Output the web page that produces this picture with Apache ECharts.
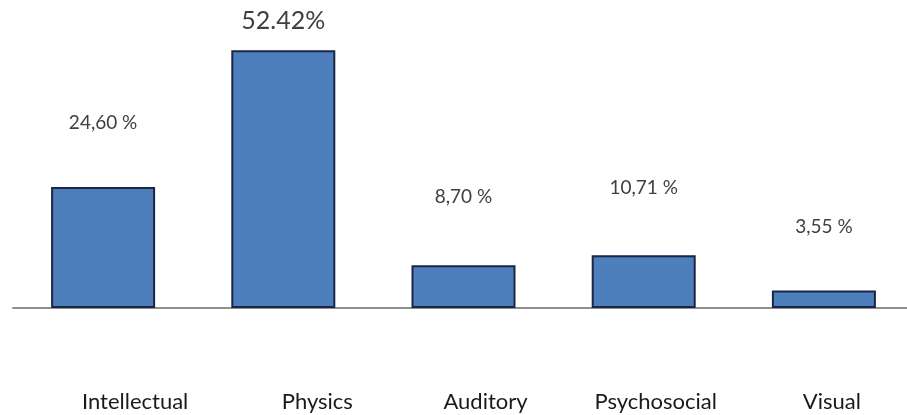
<!DOCTYPE html>
<html>
<head>
<meta charset="utf-8">
<script src="https://cdn.jsdelivr.net/npm/echarts@6/dist/echarts.min.js"></script>
<style>
  html, body { margin: 0; padding: 0; background: #ffffff; }
  #chart { width: 907px; height: 415px; }
</style>
</head>
<body>
<div id="chart"></div>
<script>
// Disability types and their share (%)
const categories = ['Intellectual', 'Physics', 'Auditory', 'Psychosocial', 'Visual'];
const shares = [24.60, 52.42, 8.70, 10.71, 3.55];
// How each share is written above its bar
const decimalMarks = [',', '.', ',', ',', ','];
const percentGaps = [' ', '', ' ', ' ', ' '];

// Styling: label gap above each bar, label font size, category label nudge to the right
const labelDistance = [55, 17, 59, 58, 54];
const labelFontSize = [19, 25, 19, 19, 19];
const categoryNudge = [32, 34, 22, 12, 8];

function shareText(i) {
  return shares[i].toFixed(2).replace('.', decimalMarks[i]) + percentGaps[i] + '%';
}

const rich = {};
categoryNudge.forEach((d, i) => {
  rich['c' + i] = {
    fontFamily: 'Lato',
    fontSize: 22,
    color: '#1a1a1a',
    padding: [0, 0, 0, 2 * d]
  };
});

const chart = echarts.init(document.getElementById('chart'), null, { renderer: 'canvas' });
chart.setOption({
  animation: false,
  backgroundColor: '#ffffff',
  grid: {
    left: 13, width: 901, top: 13, bottom: 107,
    containLabel: false,
    outerBoundsMode: 'none'
  },
  xAxis: {
    type: 'category',
    data: categories,
    axisTick: { show: false },
    axisLine: { show: true, lineStyle: { color: '#8f8f8f', width: 2 } },
    axisLabel: {
      margin: 83,
      interval: 0,
      formatter: (value, index) => '{c' + index + '|' + value + '}',
      rich: rich
    },
    splitLine: { show: false }
  },
  yAxis: {
    type: 'value',
    min: 0,
    max: 60,
    show: false,
    splitLine: { show: false }
  },
  series: [{
    type: 'bar',
    barWidth: 104,
    itemStyle: {
      color: '#4c7fbc',
      borderColor: '#1b2642',
      borderWidth: 2
    },
    data: shares.map((v, i) => ({
      value: v,
      label: {
        show: true,
        position: 'top',
        distance: labelDistance[i],
        fontFamily: 'Lato',
        fontSize: labelFontSize[i],
        color: '#404040',
        formatter: () => shareText(i)
      }
    }))
  }]
});
</script>
</body>
</html>
